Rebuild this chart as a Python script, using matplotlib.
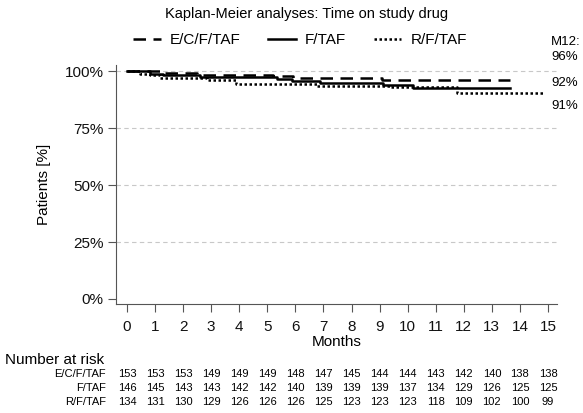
import matplotlib
matplotlib.use('Agg')
import matplotlib.pyplot as plt
import matplotlib.transforms as mtransforms

plt.rcParams['font.family'] = ['Liberation Sans', 'DejaVu Sans']

# Kaplan-Meier step curves (time in months, % on drug)
ecf_t = [0, 1.18, 2.5, 5.2, 5.9, 9.1, 13.64]
ecf_s = [100, 99.3, 98.3, 97.8, 97.3, 96.1, 96.1]
f_t = [0, 0.82, 1.3, 2.6, 5.33, 5.87, 6.88, 9.13, 10.2, 13.64]
f_s = [100, 99.0, 98.3, 97.5, 96.8, 95.8, 95.0, 94.1, 92.6, 92.6]
r_t = [0, 0.46, 0.82, 1.18, 2.84, 3.9, 6.76, 9.37, 11.75, 14.83]
r_s = [100, 99.0, 98.3, 97.2, 96.3, 94.6, 93.4, 93.1, 90.7, 90.7]

groups = ['E/C/F/TAF', 'F/TAF', 'R/F/TAF']
m12_labels = ['96%', '92%', '91%']

months = list(range(16))
risk_ecf = [153, 153, 153, 149, 149, 149, 148, 147, 145, 144, 144, 143, 142, 140, 138, 138]
risk_f = [146, 145, 143, 143, 142, 142, 140, 139, 139, 139, 137, 134, 129, 126, 125, 125]
risk_r = [134, 131, 130, 129, 126, 126, 126, 125, 123, 123, 123, 118, 109, 102, 100, 99]

yticks = [0, 25, 50, 75, 100]
ytick_labels = ['0%', '25%', '50%', '75%', '100%']

W, H = 583, 413
fig = plt.figure(figsize=(W / 100, H / 100), dpi=100)
ax = fig.add_axes([116 / W, 1 - 304 / H, (557 - 116) / W, (304 - 65) / H])

ax.step(ecf_t, ecf_s, where='post', color='black', lw=1.8, dashes=(5, 3), label=groups[0])
ax.step(f_t, f_s, where='post', color='black', lw=1.8, label=groups[1])
ax.step(r_t, r_s, where='post', color='black', lw=1.8, dashes=(1, 1), label=groups[2])

ax.set_xlim(-0.39, 15.32)
ax.set_ylim(-2.2, 102.8)
ax.set_xticks(months)
ax.set_yticks(yticks)
ax.set_yticklabels(ytick_labels)
ax.tick_params(axis='both', labelsize=11, colors='#555555', labelcolor='#111111', length=5.5)
ax.tick_params(axis='x', pad=6)
for y in yticks[1:]:
    ax.axhline(y, color='#c8c8c8', lw=0.8, ls=(0, (4, 3)), zorder=0)
for s in ['top', 'right']:
    ax.spines[s].set_visible(False)
for s in ['left', 'bottom']:
    ax.spines[s].set_color('#555555')
ax.set_xlabel('Months', fontsize=11, labelpad=1)
ax.set_ylabel('Patients [%]', fontsize=11, labelpad=10)

fig.text(307 / W, 1 - 14 / H, 'Kaplan-Meier analyses: Time on study drug',
         ha='center', va='center', fontsize=10.5)
ax.legend(loc='center', bbox_to_anchor=(300 / W, 1 - 40 / H), bbox_transform=fig.transFigure,
          ncol=3, frameon=False, fontsize=11, handlelength=1.8, columnspacing=1.8,
          handletextpad=0.6)

# M12 estimates
fig.text(551 / W, 1 - 42 / H, 'M12:', ha='left', va='center', fontsize=9.5)
for lab, yy in zip(m12_labels, [57, 83, 106]):
    fig.text(551 / W, 1 - yy / H, lab, ha='left', va='center', fontsize=9.5)

# number at risk table
trans = mtransforms.blended_transform_factory(ax.transData, fig.transFigure)
fig.text(5 / W, 1 - 360 / H, 'Number at risk', ha='left', va='center', fontsize=11)
for name, risk, yy in zip(groups, [risk_ecf, risk_f, risk_r], [374, 388, 402]):
    fig.text(106 / W, 1 - yy / H, name, ha='right', va='center', fontsize=8)
    for m, n in zip(months, risk):
        ax.text(m, 1 - yy / H, str(n), transform=trans, ha='center', va='center', fontsize=8)

fig.savefig('out.png', dpi=100)
